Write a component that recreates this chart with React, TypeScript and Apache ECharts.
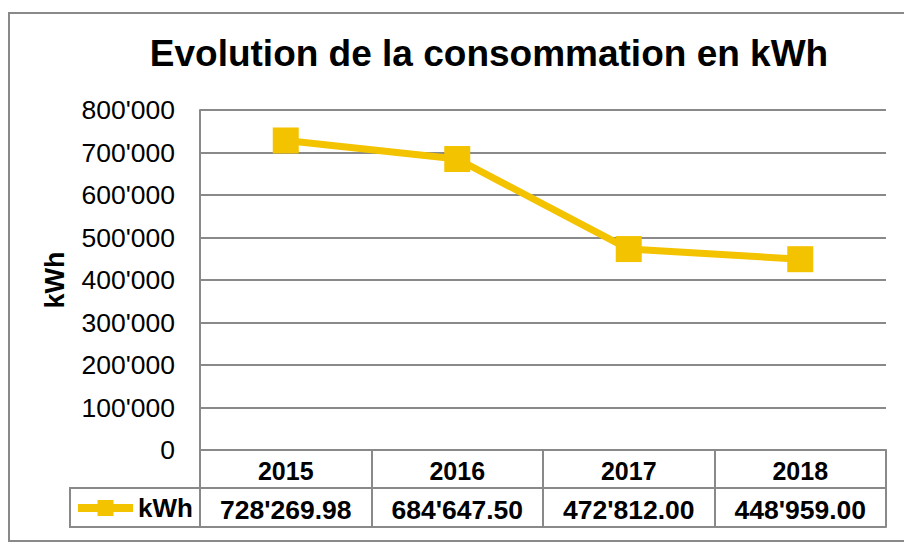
import React, { useEffect, useRef } from "react";
import * as echarts from "echarts";

const TITLE = "Evolution de la consommation en kWh";
const SERIES_NAME = "kWh";
const YEARS = ["2015", "2016", "2017", "2018"];
const VALUES = [728269.98, 684647.5, 472812.0, 448959.0];
const Y_MIN = 0;
const Y_MAX = 800000;
const Y_STEP = 100000;

const FONT = "'Liberation Sans', Arial, sans-serif";
const GRAY = "#898989";
const GOLD = "#F4C300";

const W = 904;
const H = 543;
const GRID_LEFT = 200;
const GRID_RIGHT = 18;
const GRID_TOP = 110;
const GRID_BOTTOM = 93;
const ROW_H = 38;

function fmt(n: number, decimals: number): string {
  const fixed = n.toFixed(decimals);
  const [intPart, dec] = fixed.split(".");
  const withSep = intPart.replace(/\B(?=(\d{3})+(?!\d))/g, "'");
  return dec !== undefined ? withSep + "." + dec : withSep;
}

export default function App() {
  const ref = useRef<HTMLDivElement>(null);

  useEffect(() => {
    document.body.style.margin = "0";
    if (!ref.current) return;
    const chart = echarts.init(ref.current, undefined, { renderer: "svg" });
    const axisBottom = H - GRID_BOTTOM;

    chart.setOption({
      animation: false,
      textStyle: { fontFamily: FONT },
      graphic: [
        {
          type: "rect",
          shape: { x: 9, y: 13, width: W + 20, height: 528 },
          style: { fill: "none", stroke: GRAY, lineWidth: 2 },
          silent: true,
          z: -10,
        },
        {
          type: "text",
          x: 489,
          y: 35,
          style: {
            text: TITLE,
            fontFamily: FONT,
            fontWeight: "bold",
            fontSize: 37,
            fill: "#000",
            textAlign: "center",
            textVerticalAlign: "top",
          },
        },
        {
          type: "rect",
          shape: { x: 70, y: axisBottom + ROW_H, width: GRID_LEFT - 70, height: ROW_H + 1 },
          style: { fill: "none", stroke: GRAY, lineWidth: 2 },
          silent: true,
        },
      ],
      legend: {
        show: true,
        left: 74,
        top: axisBottom + ROW_H + 7,
        padding: 0,
        itemWidth: 55,
        itemHeight: 20,
        itemGap: 4,
        data: [SERIES_NAME],
        lineStyle: { width: 8 },
        formatter: (name: string) => "{a|" + name + "}",
        textStyle: {
          fontFamily: FONT,
          fontWeight: "bold",
          fontSize: 26,
          color: "#000",
          rich: { a: { fontFamily: FONT, fontWeight: "bold", fontSize: 26, color: "#000" } },
        },
      },
      grid: {
        left: GRID_LEFT,
        right: GRID_RIGHT,
        top: GRID_TOP,
        bottom: GRID_BOTTOM,
        containLabel: false,
      },
      xAxis: [
        {
          type: "category",
          position: "bottom",
          data: YEARS,
          boundaryGap: true,
          axisLine: { show: true, lineStyle: { color: GRAY, width: 2 } },
          axisTick: { show: true, interval: 0, length: ROW_H, lineStyle: { color: GRAY, width: 2 } },
          axisLabel: {
            interval: 0,
            margin: 8,
            fontFamily: FONT,
            fontWeight: "bold",
            fontSize: 25,
            color: "#000",
          },
          splitLine: { show: false },
        },
        {
          type: "category",
          position: "bottom",
          offset: ROW_H,
          data: YEARS,
          boundaryGap: true,
          axisLine: { show: true, lineStyle: { color: GRAY, width: 2 } },
          axisTick: { show: true, interval: 0, length: ROW_H + 1, lineStyle: { color: GRAY, width: 2 } },
          axisLabel: {
            interval: 0,
            margin: 8,
            fontFamily: FONT,
            fontWeight: "bold",
            fontSize: 26.5,
            color: "#000",
            formatter: (_v: string, i: number) => fmt(VALUES[i], 2),
          },
          splitLine: { show: false },
        },
        {
          type: "category",
          position: "bottom",
          offset: ROW_H * 2 + 1,
          data: YEARS,
          boundaryGap: true,
          axisLine: { show: true, lineStyle: { color: GRAY, width: 2 } },
          axisTick: { show: false },
          axisLabel: { show: false },
          splitLine: { show: false },
        },
      ],
      yAxis: {
        type: "value",
        min: Y_MIN,
        max: Y_MAX,
        interval: Y_STEP,
        name: SERIES_NAME,
        nameLocation: "middle",
        nameRotate: 90,
        nameGap: 132,
        nameTextStyle: { fontFamily: FONT, fontWeight: "bold", fontSize: 27, color: "#000" },
        axisLine: { show: true, lineStyle: { color: GRAY, width: 2 } },
        axisTick: { show: false },
        axisLabel: {
          margin: 25,
          fontFamily: FONT,
          fontSize: 26.5,
          color: "#000",
          formatter: (v: number) => fmt(v, 0),
        },
        splitLine: { show: true, lineStyle: { color: GRAY, width: 2 } },
      },
      series: [
        {
          name: SERIES_NAME,
          type: "line",
          xAxisIndex: 0,
          data: VALUES,
          symbol: "rect",
          symbolSize: 26,
          lineStyle: { color: GOLD, width: 7 },
          itemStyle: { color: GOLD },
          z: 5,
        },
      ],
    });

    return () => chart.dispose();
  }, []);

  return <div ref={ref} style={{ width: W, height: H }} />;
}
